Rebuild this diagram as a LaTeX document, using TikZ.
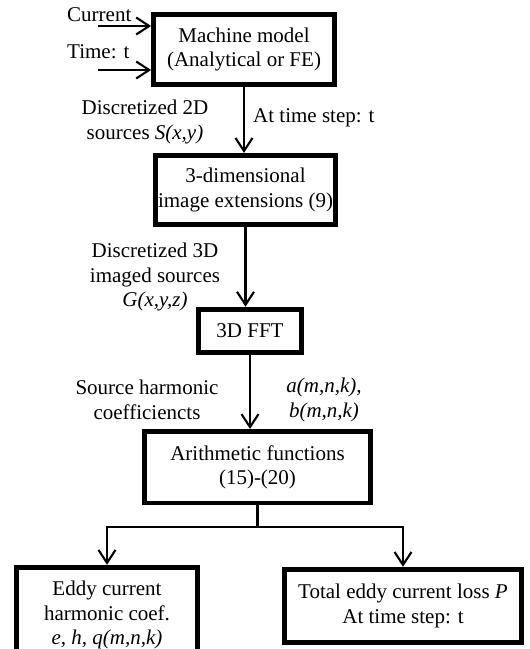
\documentclass[tikz,border=0pt]{standalone}
\usepackage{fontspec}
\setmainfont{Liberation Serif}
\usetikzlibrary{arrows.meta,positioning}
\tikzset{every node/.style={align=center}, >={Straight Barb[length=13pt,width=17pt]}, font=\fontsize{21}{24.5}\selectfont}
\tikzset{blk/.style={draw, line width=4.8pt, inner sep=2pt}, lbl/.style={inner sep=0pt}, flow/.style={->, line width=2.1pt}}

\begin{document}
\begin{tikzpicture}[x=1pt, y=-1pt]
            \useasboundingbox (0,0) rectangle (530,649);
            \node [blk, minimum width=181pt, minimum height=70pt] (model) at (244,49.5) {Machine model\\(Analytical or FE)};
            \node [blk, minimum width=180pt, minimum height=69pt, below=66pt of model, xshift=1.5pt] (ext) {3-dimensional\\image extensions (9)};
            \node [blk, minimum width=103pt, minimum height=43.5pt, below=80pt of ext, xshift=4.5pt] (fft) {3D FFT};
            \node [blk, minimum width=226pt, minimum height=71.5pt, below=74pt of fft, xshift=7.5pt] (arith) {Arithmetic functions\\(15)-(20)};
            \node [blk, minimum width=181.5pt, minimum height=95.5pt] (eddy) at (107,615) {Eddy current\\harmonic coef.\\\textit{e, h, q(m,n,k)}};
            \node [blk, minimum width=237.5pt, minimum height=73.5pt] (loss) at (403,606) {Total eddy current loss \textit{P}\\At time step: t};
            \node [lbl, anchor=base west] (cur) at (67,21) {Current};
            \node [lbl, anchor=base west] (time) at (67,58) {Time: t};
            \node [lbl] (src2d) at (145,122) {Discretized 2D\\sources \textit{S(x,y)}};
            \node [lbl, anchor=base west] (step) at (253,122) {At time step: t};
            \node [lbl] (src3d) at (155,277) {Discretized 3D\\imaged sources\\\textit{G(x,y,z)}};
            \node [lbl] (harm) at (147,400) {Source harmonic\\coefficiencts};
            \node [lbl] (coef) at (324,400) {\textit{a(m,n,k),}\\\textit{b(m,n,k)}};
            \coordinate (curin) at (98,26);
            \coordinate (timein) at (98,70);
            \draw [flow] (curin) -- (curin -| model.west);
            \draw [flow] (timein) -- (timein -| model.west);
            \draw [flow] (model) -- (model |- ext.north);
            \draw [flow] (ext) -- (ext |- fft.north);
            \draw [flow] (fft) -- (fft |- arith.north);
            \draw [line width=2.1pt] (arith.south) -- ++(0,22) coordinate (split);
            \draw [flow] (split) -| (eddy.north);
            \draw [flow] (split) -| (loss.north);
        \end{tikzpicture}
\end{document}
